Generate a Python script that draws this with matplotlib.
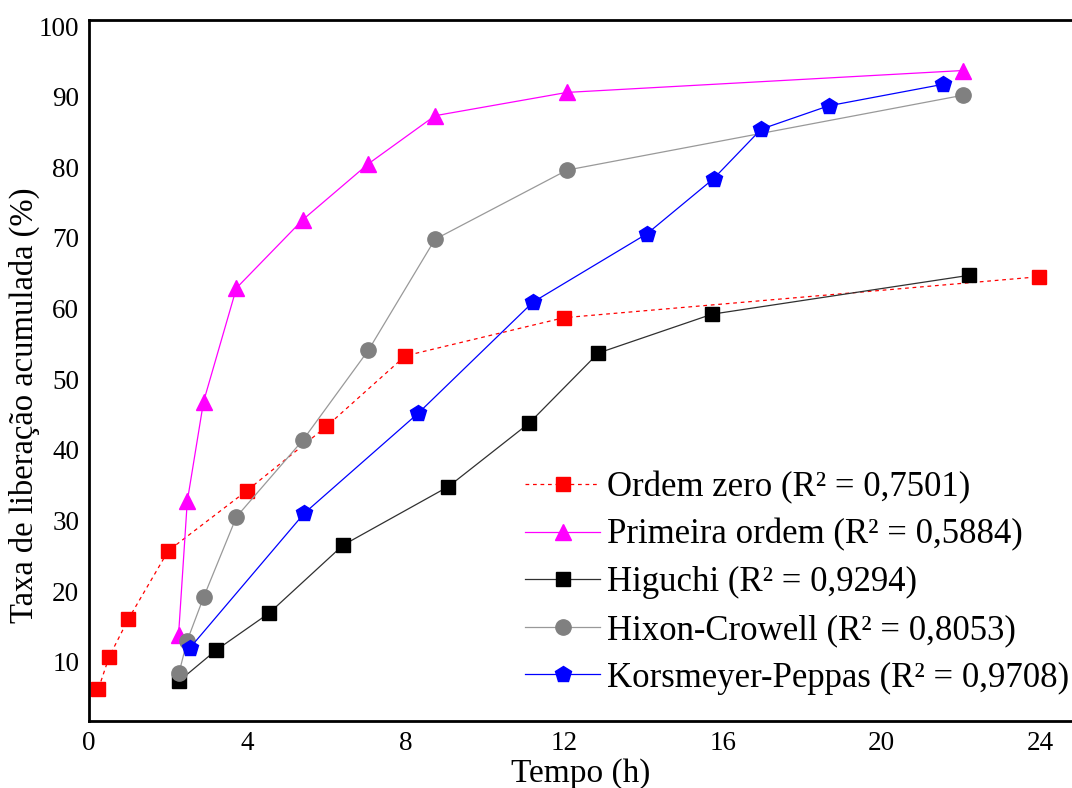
import matplotlib
matplotlib.use("Agg")
import matplotlib.pyplot as plt

# tempo (h) e taxa de liberacao (%)
x_zero = [0.24, 0.51, 0.99, 2.0, 3.98, 5.99, 7.98, 11.98, 23.96]
y_zero = [6.2, 10.7, 16.0, 25.7, 34.2, 43.3, 53.3, 58.7, 64.5]

x_prim = [2.26, 2.48, 2.89, 3.72, 5.40, 7.05, 8.73, 12.06, 22.05]
y_prim = [13.8, 32.7, 46.8, 62.9, 72.6, 80.5, 87.3, 90.6, 93.7]

x_higu = [2.26, 3.20, 4.55, 6.41, 9.07, 11.11, 12.85, 15.72, 22.2]
y_higu = [7.2, 11.6, 16.9, 26.5, 34.8, 43.8, 53.7, 59.2, 64.7]

x_hixon = [2.27, 2.48, 2.89, 3.72, 5.40, 7.05, 8.73, 12.06, 22.05]
y_hixon = [8.4, 13.0, 19.1, 30.5, 41.4, 54.1, 69.8, 79.6, 90.2]

x_kors = [2.54, 5.43, 8.31, 11.2, 14.08, 15.76, 16.96, 18.66, 21.55]
y_kors = [11.9, 31.0, 45.2, 60.9, 70.6, 78.4, 85.4, 88.7, 91.75]

labels = ["Ordem zero (R² = 0,7501)", "Primeira ordem (R² = 0,5884)",
          "Higuchi (R² = 0,9294)", "Hixon-Crowell (R² = 0,8053)",
          "Korsmeyer-Peppas (R² = 0,9708)"]

plt.rcParams["font.family"] = ["Liberation Serif", "DejaVu Serif"]

fig = plt.figure(figsize=(10.72, 7.88), dpi=100)
ax = fig.add_axes([0.083, 0.085, 0.917, 0.8896])

ax.plot(x_zero, y_zero, color="#ff0000", lw=0.9, ls=(0, (3, 3)),
        marker="s", ms=10, label=labels[0])
ax.plot(x_prim, y_prim, color="#ff00ff", lw=0.9,
        marker="^", ms=12, label=labels[1])
ax.plot(x_higu, y_higu, color="#303030", lw=0.9,
        marker="s", ms=10, mfc="black", mec="black", label=labels[2])
ax.plot(x_hixon, y_hixon, color="#999999", lw=0.9,
        marker="o", ms=11, mfc="#808080", mec="#808080", label=labels[3])
ax.plot(x_kors, y_kors, color="#0000ff", lw=0.9,
        marker="p", ms=12, label=labels[4])

ax.set_xlim(0, 24.8)
ax.set_ylim(1.6, 100.85)
ax.set_xticks([0, 4, 8, 12, 16, 20, 24])
ax.set_yticks(range(10, 101, 10))
ax.tick_params(length=0, labelsize=19.5, pad=7)
ax.spines["right"].set_visible(False)
for s in ["left", "top", "bottom"]:
    ax.spines[s].set_linewidth(2)

ax.set_xlabel("Tempo (h)", fontsize=24, labelpad=2)
ax.set_ylabel("Taxa de liberação acumulada (%)", fontsize=23.5)
ax.yaxis.set_label_coords(-0.05, 0.45)

ax.legend(loc="lower right", bbox_to_anchor=(1.011, 0.018), frameon=False,
          fontsize=25, handlelength=2.15, handletextpad=0.2,
          labelspacing=0.42, borderaxespad=0)

fig.savefig("out.png", dpi=100)
